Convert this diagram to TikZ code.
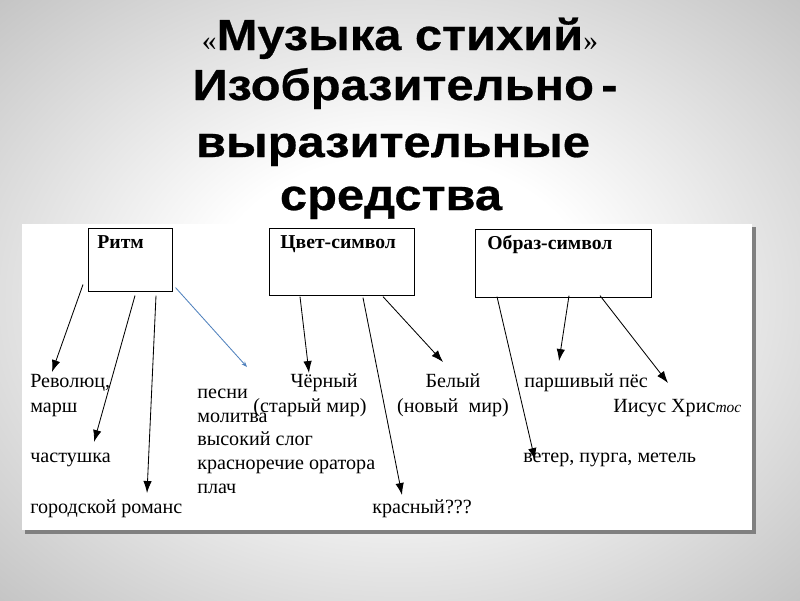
\documentclass[tikz,border=0pt]{standalone}
\usepackage{fontspec}
\setmainfont{Liberation Serif}
\newfontfamily\titlefont[FakeStretch=1.12,FakeBold=0.6]{Liberation Sans}
\usetikzlibrary{arrows.meta, positioning, calc}

\definecolor{linkblue}{RGB}{79,129,189}
\pgfdeclareradialshading{slidebg}{\pgfpoint{0bp}{0bp}}{%
  color(0bp)=(white); color(12bp)=(white); color(50bp)=(black!37); color(72bp)=(black!55)}
\newcommand{\qmark}[1]{{\rmfamily\mdseries\fontsize{21pt}{21pt}\selectfont #1}}

\begin{document}
\begin{tikzpicture}[
    x=0.025cm, y=-0.025cm,
    title/.style={font=\titlefont\bfseries\fontsize{31pt}{31pt}\selectfont, inner sep=0pt, anchor=base},
    hdr/.style={draw, line width=0.6pt, anchor=north west, align=left, inner xsep=#1, inner ysep=5pt, text height=9.5pt, font=\bfseries\fontsize{14pt}{16pt}\selectfont},
    lbl/.style={inner sep=0pt, anchor=base west, align=left, font=\fontsize{14.3pt}{17.7pt}\selectfont},
    arr/.style={-{Latex[length=8.5pt,width=6pt]}, line width=0.6pt},
    link/.style={-{Stealth[length=4pt,width=3pt]}, line width=0.6pt, linkblue}
]
\useasboundingbox (0,0) rectangle (800,600);
\shade[shading=slidebg] (0,0) rectangle (800,600);

% scanned sheet
\fill[black!50] (25,227) rectangle (756,534);
\fill[white] (22,224) rectangle (752,530);

% Title
\node[title] (t1) at (400,50) {\qmark{«}Музыка стихий\qmark{»}};
\node[title] (t2) at (405,100) {Изобразительно\,-};
\node[title] (t3) at (393,157) {выразительные};
\node[title] (t4) at (391,210) {средства};

% Header boxes
\node[hdr=6.4pt, text width=46.7pt, text depth=25.1pt] (rhythm) at (88,228) {Ритм};
\node[hdr=7.8pt, text width=87.2pt, text depth=28pt] (colorsym) at (269,228) {Цвет-символ};
\node[hdr=8.5pt, text width=108.4pt, text depth=28.7pt] (imagesym) at (475,229) {Образ-символ};

% Labels
\node[lbl] (rev) at (30,412) {Революц,\\марш};
\node[lbl] (chast) at (30,462) {частушка};
\node[lbl] (romance) at (30,513) {городской романс};
\node[lbl, font=\fontsize{14.3pt}{16.8pt}\selectfont] (songs) at (197,493) {песни\\молитва\\высокий слог\\красноречие оратора\\плач};
\node[lbl, anchor=base, align=center] (black) at (310,412) {\hspace*{1.4em}Чёрный\\(старый мир)};
\node[lbl, anchor=base, align=center] (white) at (453,412) {Белый\\(новый\ \ мир)};
\node[lbl] (red) at (372,513) {красный???};
\node[lbl] (dog) at (524,387) {паршивый пёс};
\node[lbl] (christ) at (613,412) {Иисус Хрис{\itshape\fontsize{11pt}{11pt}\selectfont тос}};
\node[lbl] (storm) at (523,462) {ветер, пурга, метель};

% Arrows
\draw[arr] ($(rhythm.south west)+(-5,-7)$) -- ($(rev.base west)+(22,-40)$);
\draw[arr] ($(rhythm.south west)+(47,4)$) -- ($(chast.base west)+(64,-20)$);
\draw[arr] ($(rhythm.south west)+(68,4)$) -- ($(romance.base west)+(117,-20)$);
\draw[link] ($(rhythm.south east)+(3,-4)$) -- ($(songs.base west)+(50,-126)$);
\draw[arr] ($(colorsym.south west)+(31,1)$) -- ($(black.base)+(-1,-39)$);
\draw[arr] ($(colorsym.south west)+(94,2)$) -- ($(red.base west)+(30,-18)$);
\draw[arr] ($(colorsym.south west)+(114,1)$) -- ($(white.base)+(-10,-50)$);
\draw[arr] ($(imagesym.south west)+(22,-1)$) -- ($(storm.base west)+(12,-2)$);
\draw[arr] ($(imagesym.south west)+(94,-2)$) -- ($(dog.base west)+(35,-26)$);
\draw[arr] ($(imagesym.south west)+(125,-2)$) -- ($(christ.base west)+(55,-29)$);
\end{tikzpicture}
\end{document}
